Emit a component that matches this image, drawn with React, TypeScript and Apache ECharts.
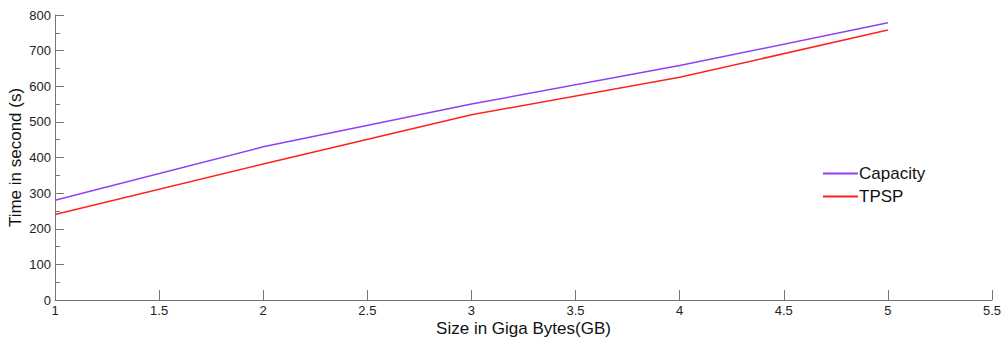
import React, { useEffect, useRef } from "react";
import * as echarts from "echarts";

const sizes = [1, 2, 3, 4, 5];
const capacity = [280, 430, 550, 658, 778];
const tpsp = [240, 382, 520, 625, 758];

export default function App() {
  const ref = useRef<HTMLDivElement>(null);
  useEffect(() => {
    document.body.style.margin = "0";
    const chart = echarts.init(ref.current!, null, { renderer: "svg" });
    const axisLine = { show: true, lineStyle: { color: "#777", width: 1 } };
    chart.setOption({
      animation: false,
      backgroundColor: "#fff",
      grid: { left: 55, right: 13, top: 15, bottom: 43, outerBoundsMode: "none", containLabel: false },
      legend: {
        orient: "vertical",
        left: 818,
        top: 160,
        itemWidth: 35,
        itemHeight: 2,
        itemGap: 6,
        icon: "rect",
        textStyle: { fontFamily: "Liberation Sans", fontSize: 17, color: "#111", padding: [0, 0, 0, -4] },
        data: ["Capacity", "TPSP"],
      },
      xAxis: {
        type: "value",
        min: 1,
        max: 5.5,
        interval: 0.5,
        name: "Size in Giga Bytes(GB)",
        nameLocation: "middle",
        nameGap: 20,
        nameMoveOverlap: false,
        nameTextStyle: { fontFamily: "Liberation Sans", fontSize: 17, color: "#111" },
        axisLine,
        axisTick: { show: true, inside: true, length: 10, lineStyle: { color: "#777" } },
        axisLabel: { fontFamily: "Liberation Sans", fontSize: 13, color: "#222", margin: 4 },
        splitLine: { show: false },
      },
      yAxis: {
        type: "value",
        min: 0,
        max: 800,
        interval: 100,
        name: "Time in second (s)",
        nameLocation: "middle",
        nameGap: 31,
        nameMoveOverlap: false,
        nameTextStyle: { fontFamily: "Liberation Sans", fontSize: 17, color: "#111" },
        axisLine,
        axisTick: { show: true, inside: true, length: 9, lineStyle: { color: "#777" } },
        minorTick: { show: true, splitNumber: 2, length: 5, lineStyle: { color: "#777" } },
        axisLabel: { fontFamily: "Liberation Sans", fontSize: 13, color: "#222", margin: 4 },
        splitLine: { show: false },
      },
      series: [
        {
          name: "Capacity",
          type: "line",
          data: sizes.map((s, i) => [s, capacity[i]]),
          showSymbol: false,
          lineStyle: { color: "#9040f5", width: 1.5 },
          itemStyle: { color: "#9040f5" },
        },
        {
          name: "TPSP",
          type: "line",
          data: sizes.map((s, i) => [s, tpsp[i]]),
          showSymbol: false,
          lineStyle: { color: "#ff2222", width: 1.5 },
          itemStyle: { color: "#ff2222" },
        },
      ],
    });
    return () => chart.dispose();
  }, []);
  return <div ref={ref} style={{ width: 1005, height: 343 }} />;
}
